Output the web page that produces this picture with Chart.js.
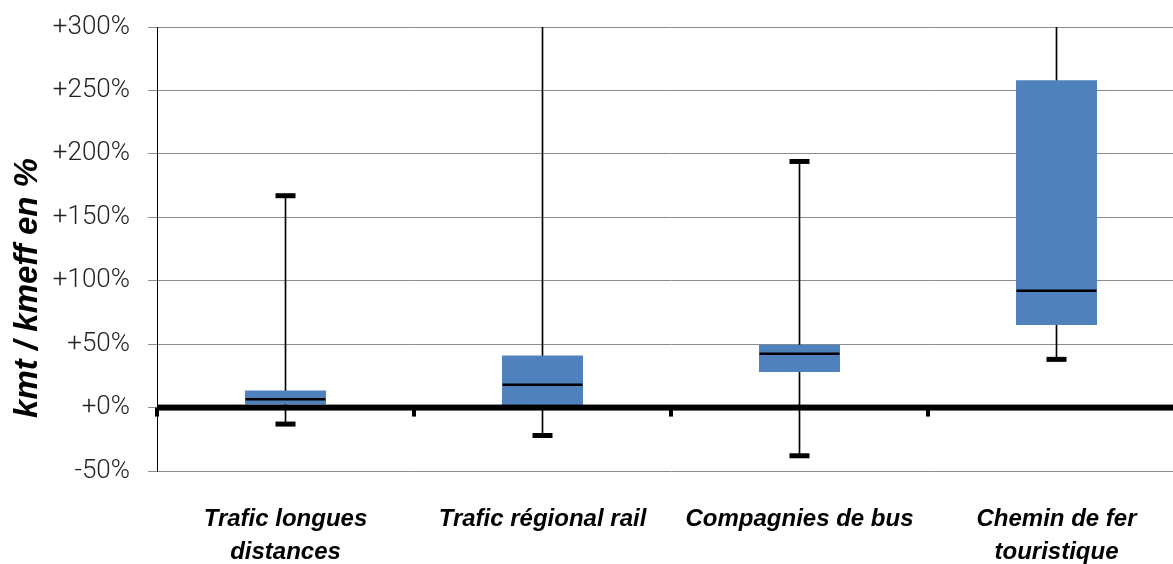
<!DOCTYPE html>
<html>
<head>
<meta charset="utf-8">
<script src="https://cdn.jsdelivr.net/npm/chart.js@4"></script>
<style>
  html, body { margin: 0; padding: 0; background: #fff; overflow: hidden; }
  #wrap { width: 1173px; height: 564px; overflow: hidden; }
</style>
</head>
<body>
<div id="wrap"><canvas id="boxChart" width="1185" height="564"></canvas></div>
<script>
// Catégories et valeurs (en %)
const categories = [
  ['Trafic longues', 'distances'],
  'Trafic régional rail',
  'Compagnies de bus',
  ['Chemin de fer', 'touristique']
];
const whiskerLow  = [-13, -22, -38, 38];
const quartile1   = [2.5, 0, 28, 65];
const medians     = [6.5, 18, 42.5, 92];
const quartile3   = [13.5, 41, 49.5, 258];
const whiskerHigh = [167, 330, 194, 320];   // > 300 : coupé en haut
const yTicks = [-50, 0, 50, 100, 150, 200, 250, 300];

const boxColor = '#4f81bd';

// Trait épais du zéro + petites marques entre catégories
const axisPlugin = {
  id: 'zeroAxis',
  afterDatasetsDraw(chart) {
    const { ctx, chartArea, scales } = chart;
    const y0 = scales.y.getPixelForValue(0);
    ctx.save();
    ctx.fillStyle = '#000';
    ctx.fillRect(chartArea.left, y0 - 3, chartArea.right - chartArea.left, 6);
    for (let i = 0; i < categories.length; i++) {
      const x = scales.x.getPixelForValue(i - 0.5);
      ctx.fillRect(x - 2, y0, 4, 9);
    }
    ctx.restore();
  },
  afterDraw(chart) {
    // titre de l'axe vertical
    const { ctx } = chart;
    ctx.save();
    ctx.translate(28, 288);
    ctx.rotate(-Math.PI / 2);
    ctx.font = 'italic bold 33px "Liberation Sans", Arial, sans-serif';
    ctx.fillStyle = '#000';
    ctx.textAlign = 'center';
    ctx.textBaseline = 'middle';
    ctx.fillText('kmt / kmeff en %', 0, 0);
    ctx.restore();
  }
};

const config = {
  type: 'bar',
  data: {
    labels: categories,
    datasets: [
      {
        // moustaches
        type: 'bar',
        data: whiskerLow.map((v, i) => [v, whiskerHigh[i]]),
        backgroundColor: '#000',
        barThickness: 1,
        grouped: false,
        order: 3
      },
      {
        // boîtes
        type: 'bar',
        data: quartile1.map((v, i) => [v, quartile3[i]]),
        backgroundColor: boxColor,
        borderWidth: 0,
        barPercentage: 0.315,
        categoryPercentage: 1,
        grouped: false,
        order: 2
      },
      {
        // médianes
        type: 'line',
        data: medians,
        showLine: false,
        pointStyle: 'line',
        pointRadius: 40,
        pointHoverRadius: 40,
        pointBorderWidth: 2.5,
        borderColor: '#000',
        order: 1
      },
      {
        // extrémités hautes
        type: 'line',
        data: whiskerHigh.map(v => (v <= 300 ? v : null)),
        showLine: false,
        pointStyle: 'line',
        pointRadius: 10,
        pointHoverRadius: 10,
        pointBorderWidth: 5,
        borderColor: '#000',
        order: 0
      },
      {
        // extrémités basses
        type: 'line',
        data: whiskerLow,
        showLine: false,
        pointStyle: 'line',
        pointRadius: 10,
        pointHoverRadius: 10,
        pointBorderWidth: 5,
        borderColor: '#000',
        order: 0
      }
    ]
  },
  options: {
    responsive: false,
    animation: false,
    devicePixelRatio: 1,
    layout: { autoPadding: false, padding: { top: 27, left: 0, right: 0, bottom: 0 } },
    plugins: {
      legend: { display: false },
      tooltip: { enabled: false }
    },
    scales: {
      x: {
        grid: { display: false },
        border: { display: false },
        ticks: {
          color: '#000',
          padding: 24,
          maxRotation: 0,
          autoSkip: false,
          font: { family: '"Liberation Sans", Arial, sans-serif', size: 24, weight: 'bold', style: 'italic', lineHeight: 1.38 }
        },
        afterFit(scale) {
          scale.height = 93;
          scale.paddingLeft = 0;
          scale.paddingRight = 0;
        }
      },
      y: {
        min: -50,
        max: 300,
        afterBuildTicks(scale) { scale.ticks = yTicks.map(v => ({ value: v })); },
        grid: {
          color: '#8c8c8c',
          lineWidth: 1,
          tickLength: 9
        },
        border: { display: true, color: '#000', width: 1 },
        ticks: {
          color: '#222',
          padding: 18,
          font: { family: 'Roboto, "Liberation Sans", sans-serif', size: 26, weight: '300' },
          callback: v => (v < 0 ? '' : '+') + v + '%'
        },
        afterFit(scale) {
          scale.width = 157;
          scale.paddingTop = 0;
          scale.paddingBottom = 0;
        }
      }
    }
  },
  plugins: [axisPlugin]
};

const boxChart = new Chart(document.getElementById('boxChart'), config);
</script>
</body>
</html>
